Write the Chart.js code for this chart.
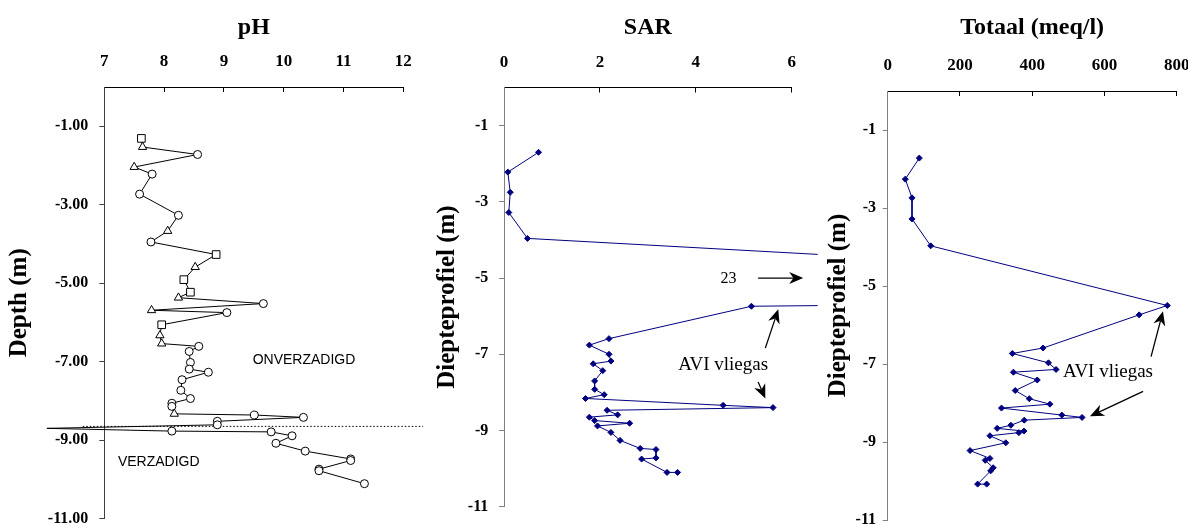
<!DOCTYPE html>
<html>
<head>
<meta charset="utf-8">
<title>Diepteprofiel pH, SAR en Totaal</title>
<script src="https://cdn.jsdelivr.net/npm/chart.js@4.4.1/dist/chart.umd.min.js"></script>
<style>
  body { margin: 0; background: #fff; }
  #wrap { position: relative; width: 1188px; height: 525px; overflow: hidden; }
  canvas { position: absolute; top: 0; }
</style>
</head>
<body>
<div id="wrap">
  <canvas id="phChart" width="430" height="525" style="left:0px"></canvas>
  <canvas id="sarChart" width="400" height="525" style="left:420px"></canvas>
  <canvas id="totaalChart" width="368" height="525" style="left:820px"></canvas>
</div>
<script>
Chart.defaults.font.family = '"Liberation Serif", "Times New Roman", serif';
Chart.defaults.color = "#000";

// ---------------- data ----------------
const depthTicks = [-1, -3, -5, -7, -9, -11];

// pH profiel, marker: s = vierkant, t = driehoek, c = cirkel, n = geen
const phDepth = [
  -1.31, -1.53, -1.72, -2.04, -2.22, -2.73, -3.27, -3.67, -3.95, -4.27,
  -4.59, -4.91, -5.23, -5.37, -5.52, -5.69, -5.75, -6.06, -6.33, -6.54,
  -6.61, -6.74, -7.02, -7.19, -7.27, -7.46, -7.73, -7.94, -8.06, -8.14,
  -8.33, -8.36, -8.42, -8.52, -8.61, -8.70, -8.77, -8.79, -8.89, -9.08,
  -9.28, -9.48, -9.52, -9.74, -9.78, -10.11,
];
const phValue = [
  7.62, 7.64, 8.56, 7.5, 7.8, 7.59, 8.24, 8.06, 7.78, 8.87,
  8.52, 8.33, 8.44, 8.24, 9.66, 7.79, 9.05, 7.96, 7.93, 7.96,
  8.58, 8.42, 8.44, 8.42, 8.74, 8.3, 8.28, 8.44, 8.13, 8.13,
  8.17, 9.51, 10.33, 8.89, 8.89, 6.04, 8.13, 9.79, 10.14, 9.87,
  10.36, 11.12, 11.12, 10.59, 10.59, 11.35,
];
const phMarker = [
  "s", "t", "c", "t", "c", "c", "c", "t", "c", "s",
  "t", "s", "s", "t", "c", "t", "c", "s", "t", "t",
  "c", "c", "c", "c", "c", "c", "c", "c", "c", "c",
  "t", "c", "c", "c", "c", "n", "c", "c", "c", "c",
  "c", "c", "c", "c", "c", "c",
];

// grondwaterstand (stippellijn)
const waterTableDepth = -8.65;
const waterTableFrom = 6.64;
const waterTableTo = 12.33;

const sarDepth = [
  -1.7, -2.22, -2.75, -3.28, -3.96, -5.52, -5.74, -6.59, -6.76, -7.0,
  -7.18, -7.25, -7.43, -7.7, -7.92, -8.06, -8.16, -8.34, -8.4, -8.47,
  -8.59, -8.65, -8.74, -8.81, -8.88, -9.05, -9.26, -9.47, -9.5, -9.72,
  -9.75, -10.1, -10.1,
];
const sarValue = [
  0.72, 0.08, 0.13, 0.1, 0.49, 23, 5.16, 2.19, 1.78, 2.19,
  2.23, 1.86, 2.06, 1.89, 1.89, 2.09, 1.7, 4.57, 5.61, 2.15,
  2.37, 1.78, 1.89, 2.62, 1.95, 2.23, 2.42, 2.84, 3.17, 3.17,
  2.87, 3.4, 3.62,
];

const totaalDepth = [
  -1.72, -2.26, -2.74, -3.28, -3.97, -5.5, -5.74, -6.59, -6.73, -6.97,
  -7.14, -7.21, -7.41, -7.68, -7.89, -8.03, -8.13, -8.31, -8.37, -8.44,
  -8.57, -8.65, -8.72, -8.76, -8.84, -9.02, -9.22, -9.42, -9.47, -9.66,
  -9.74, -10.08, -10.08,
];
const totaalValue = [
  87.5, 48.7, 67.3, 67.3, 119, 774, 696, 430, 345, 445,
  466, 348, 414, 353, 392, 449, 315, 482, 538, 378,
  341, 303, 377, 363, 283, 327, 228, 283, 270, 292,
  285, 249, 274,
];

// ---------------- helpers ----------------
function toPoints(xs, ys) {
  return xs.map((v, i) => ({ x: v, y: ys[i] }));
}

function clearPadding(scale) {
  scale.paddingLeft = 0;
  scale.paddingRight = 0;
  scale.paddingTop = 0;
  scale.paddingBottom = 0;
}

const titleFont = { size: 24, weight: "bold" };

function valueAxis(title, min, max, step, height) {
  return {
    type: "linear",
    position: "top",
    min: min,
    max: max,
    ticks: { stepSize: step, padding: 20, font: { size: 17, weight: "bold" } },
    grid: { drawOnChartArea: false, tickLength: -5, color: "#000" },
    border: { color: "#000", width: 1 },
    title: { display: true, text: title, font: titleFont, padding: { top: 13.6, bottom: 0 } },
    afterFit: (scale) => {
      scale.height = height;
      clearPadding(scale);
    },
  };
}

function depthAxis(title, width, titlePad, labelPad, decimals, lineColor) {
  return {
    type: "linear",
    position: "left",
    min: -11,
    max: 0,
    afterBuildTicks: (scale) => {
      scale.ticks = depthTicks.map((v) => ({ value: v }));
    },
    ticks: {
      padding: labelPad,
      font: { size: 16, weight: "bold" },
      callback: (v) => Number(v).toFixed(decimals),
    },
    grid: { drawOnChartArea: false, tickLength: 5, color: lineColor },
    border: { color: lineColor, width: 1 },
    title: { display: true, text: title, font: { size: 25, weight: "bold" }, padding: { top: titlePad, bottom: 0 } },
    afterFit: (scale) => {
      scale.width = width;
      clearPadding(scale);
    },
  };
}

function drawArrow(ctx, x1, y1, x2, y2) {
  const ang = Math.atan2(y2 - y1, x2 - x1);
  const cos = Math.cos(ang);
  const sin = Math.sin(ang);
  const len = 14;
  const half = 6;
  ctx.beginPath();
  ctx.moveTo(x1, y1);
  ctx.lineTo(x2 - cos * len * 0.7, y2 - sin * len * 0.7);
  ctx.stroke();
  ctx.beginPath();
  ctx.moveTo(x2, y2);
  ctx.lineTo(x2 - cos * len + sin * half, y2 - sin * len - cos * half);
  ctx.lineTo(x2 - cos * len * 0.7, y2 - sin * len * 0.7);
  ctx.lineTo(x2 - cos * len - sin * half, y2 - sin * len + cos * half);
  ctx.closePath();
  ctx.fill();
}

// tekst en pijlen in data-coordinaten
function makeNotes(texts, arrows) {
  return {
    id: "notes",
    afterDatasetsDraw(chart) {
      const { ctx } = chart;
      const sx = chart.scales.x;
      const sy = chart.scales.y;
      ctx.save();
      ctx.fillStyle = "#000";
      ctx.strokeStyle = "#000";
      ctx.lineWidth = 1.3;
      ctx.textAlign = "center";
      ctx.textBaseline = "middle";
      texts.forEach((t) => {
        ctx.font = t.font;
        ctx.fillText(t.text, sx.getPixelForValue(t.x), sy.getPixelForValue(t.y));
      });
      arrows.forEach((a) => {
        drawArrow(
          ctx,
          sx.getPixelForValue(a.from[0]), sy.getPixelForValue(a.from[1]),
          sx.getPixelForValue(a.to[0]), sy.getPixelForValue(a.to[1])
        );
      });
      ctx.restore();
    },
  };
}

const serifNote = '19px "Liberation Serif", "Times New Roman", serif';
const sansNote = '14px "Liberation Sans", Arial, sans-serif';

const baseOptions = {
  responsive: false,
  animation: false,
  plugins: { legend: { display: false }, tooltip: { enabled: false } },
};

// ---------------- pH ----------------
const markerStyle = { s: "rect", t: "triangle", c: "circle", n: false };
const markerRadius = { s: 5.4, t: 4.8, c: 4, n: 0 };

new Chart(document.getElementById("phChart"), {
  type: "scatter",
  data: {
    datasets: [
      {
        data: toPoints(phValue, phDepth),
        showLine: true,
        borderColor: "#000",
        borderWidth: 1,
        pointStyle: (ctx) => markerStyle[phMarker[ctx.dataIndex]],
        pointRadius: (ctx) => markerRadius[phMarker[ctx.dataIndex]],
        pointBackgroundColor: "#fff",
        pointBorderColor: "#000",
        pointBorderWidth: 1,
        clip: false,
      },
      {
        data: [
          { x: waterTableFrom, y: waterTableDepth },
          { x: waterTableTo, y: waterTableDepth },
        ],
        showLine: true,
        borderColor: "#000",
        borderWidth: 1,
        borderDash: [1.5, 2],
        pointRadius: 0,
        clip: false,
      },
    ],
  },
  options: {
    ...baseOptions,
    layout: { padding: { left: 0, top: 0, right: 26.7, bottom: 6 } },
    scales: {
      x: valueAxis("pH", 7, 12, 1, 87),
      y: depthAxis("Depth (m)", 104.3, 5, 11, 2, "#404040"),
    },
  },
  plugins: [
    makeNotes(
      [
        { text: "ONVERZADIGD", x: 10.34, y: -6.97, font: sansNote },
        { text: "VERZADIGD", x: 7.91, y: -9.57, font: sansNote },
      ],
      []
    ),
  ],
});

// ---------------- SAR ----------------
new Chart(document.getElementById("sarChart"), {
  type: "scatter",
  data: {
    datasets: [
      {
        data: toPoints(sarValue, sarDepth),
        showLine: true,
        borderColor: "#000080",
        borderWidth: 1,
        pointStyle: "rectRot",
        pointRadius: 3,
        pointBackgroundColor: "#000080",
        pointBorderColor: "#000080",
        pointBorderWidth: 1,
        clip: { left: 10, top: 10, right: 26, bottom: 10 },
      },
    ],
  },
  options: {
    ...baseOptions,
    layout: { padding: { left: 0, top: 0, right: 28.3, bottom: 18.3 } },
    scales: {
      x: valueAxis("SAR", 0, 6, 2, 87.5),
      y: depthAxis("Diepteprofiel (m)", 84, 12.5, 10.7, 0, "#808080"),
    },
  },
  plugins: [
    makeNotes(
      [
        { text: "23", x: 4.68, y: -5.01, font: '16px "Liberation Serif", "Times New Roman", serif' },
        { text: "AVI vliegas", x: 4.57, y: -7.29, font: serifNote },
      ],
      [
        { from: [5.3, -5.0], to: [6.24, -5.0] },
        { from: [5.45, -6.84], to: [5.72, -5.82] },
        { from: [5.3, -7.73], to: [5.45, -8.16] },
      ]
    ),
  ],
});

// ---------------- Totaal ----------------
new Chart(document.getElementById("totaalChart"), {
  type: "scatter",
  data: {
    datasets: [
      {
        data: toPoints(totaalValue, totaalDepth),
        showLine: true,
        borderColor: "#000080",
        borderWidth: 1,
        pointStyle: "rectRot",
        pointRadius: 3,
        pointBackgroundColor: "#000080",
        pointBorderColor: "#000080",
        pointBorderWidth: 1,
        clip: 10,
      },
    ],
  },
  options: {
    ...baseOptions,
    layout: { padding: { left: 0, top: 0, right: 11.3, bottom: 5 } },
    scales: {
      x: valueAxis("Totaal (meq/l)", 0, 800, 200, 91),
      y: depthAxis("Diepteprofiel (m)", 67.7, 3.5, 6.7, 0, "#808080"),
    },
  },
  plugins: [
    makeNotes(
      [{ text: "AVI vliegas", x: 610, y: -7.21, font: serifNote }],
      [
        { from: [729, -6.81], to: [762, -5.65] },
        { from: [707, -7.7], to: [560, -8.34] },
      ]
    ),
  ],
});
</script>
</body>
</html>
